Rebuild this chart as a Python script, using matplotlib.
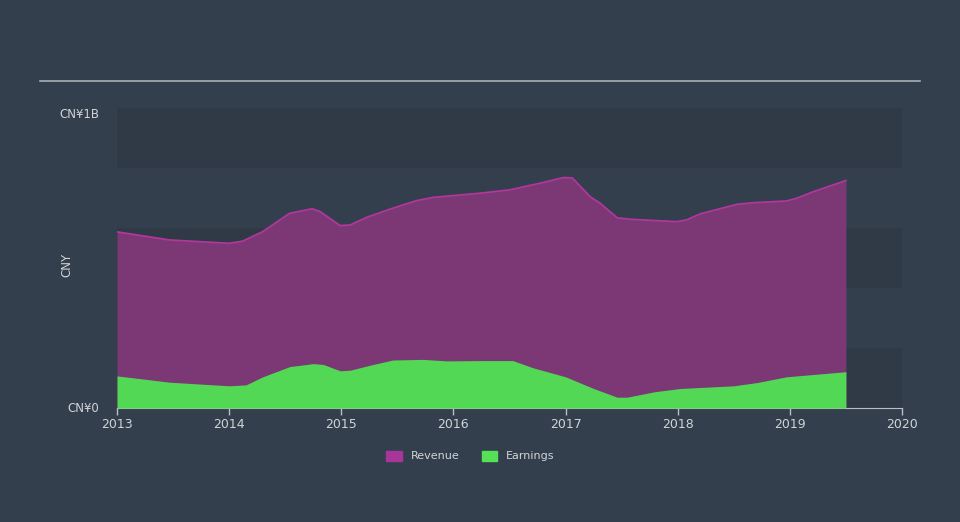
import matplotlib as mpl
import matplotlib.pyplot as plt
from matplotlib.patches import Patch

# values (years as decimals, CNY billions)
rev_x = [2013.0, 2013.47, 2014.0, 2014.12, 2014.3, 2014.54, 2014.74, 2014.81,
         2014.99, 2015.08, 2015.23, 2015.46, 2015.67, 2015.82, 2016.0, 2016.24,
         2016.5, 2016.77, 2016.98, 2017.06, 2017.22, 2017.31, 2017.46, 2017.58,
         2017.99, 2018.08, 2018.2, 2018.53, 2018.67, 2018.97, 2019.06, 2019.21,
         2019.5]
revenue = [0.587, 0.56, 0.549, 0.556, 0.588, 0.649, 0.664, 0.655,
           0.608, 0.61, 0.636, 0.666, 0.691, 0.702, 0.708, 0.716,
           0.727, 0.749, 0.768, 0.767, 0.704, 0.682, 0.634, 0.629,
           0.621, 0.627, 0.647, 0.679, 0.684, 0.69, 0.699, 0.721,
           0.758]

earn_x = [2013.0, 2013.47, 2014.0, 2014.15, 2014.3, 2014.54, 2014.75, 2014.84,
          2014.99, 2015.08, 2015.26, 2015.46, 2015.73, 2015.94, 2016.24, 2016.53,
          2016.71, 2017.0, 2017.25, 2017.46, 2017.55, 2017.79, 2018.02, 2018.5,
          2018.71, 2018.97, 2019.5]
earnings = [0.107, 0.086, 0.074, 0.077, 0.104, 0.138, 0.148, 0.145,
            0.124, 0.126, 0.143, 0.16, 0.162, 0.157, 0.158, 0.158,
            0.134, 0.104, 0.065, 0.036, 0.036, 0.054, 0.065, 0.074,
            0.085, 0.104, 0.121]

years = [2013, 2014, 2015, 2016, 2017, 2018, 2019, 2020]

BG = "#333f4d"
TXT = "#d0d4d8"

mpl.rcParams.update({"font.family": "DejaVu Sans", "font.size": 8.5})

fig = plt.figure(figsize=(9.6, 5.22), dpi=100)
fig.patch.set_facecolor(BG)
ax = fig.add_axes([117 / 960, 114 / 522, 785 / 960, 300 / 522])
ax.set_facecolor("none")

# alternating bands
for lo in (0.0, 0.4, 0.8):
    ax.axhspan(lo, lo + 0.2, color="#000000", alpha=0.08, lw=0, zorder=0)

ax.fill_between(rev_x, 0, revenue, color="#7b3875", lw=0, zorder=1)
ax.plot(rev_x, revenue, color="#b0379c", lw=1.3, zorder=2)
ax.fill_between(earn_x, 0, earnings, color="#52d855", lw=0, zorder=3)

ax.set_xlim(2013, 2020)
ax.set_ylim(0, 1)
ax.set_xticks(years)
ax.set_xticklabels([str(y) for y in years], color=TXT, fontsize=9)
ax.tick_params(axis="x", colors="#b8bec4", length=5, width=1, pad=2)
ax.tick_params(axis="x", labelcolor=TXT)
ax.set_yticks([0, 1])
ax.set_yticklabels(["CN¥0", "CN¥1B"], color=TXT)
ax.tick_params(axis="y", length=0, pad=13)
for lbl, va in zip(ax.get_yticklabels(), ["center", "top"]):
    lbl.set_va(va)
for s in ("top", "right", "left"):
    ax.spines[s].set_visible(False)
ax.spines["bottom"].set_color("#b8bec4")
ax.set_ylabel("CNY", color=TXT)
ax.yaxis.set_label_coords(-0.055, 0.477)

# top rule
fig.add_artist(plt.Line2D([40 / 960, 920 / 960], [1 - 81 / 522, 1 - 81 / 522],
                          color="#a8aeb5", lw=1.2))

handles = [Patch(color="#a8359a", label="Revenue"),
           Patch(color="#55e055", label="Earnings")]
leg = fig.legend(handles=handles, loc="center", bbox_to_anchor=(0.49, 1 - 456 / 522),
                 ncol=2, frameon=False, fontsize=8, labelcolor=TXT,
                 handlelength=1.4, handleheight=1.0, columnspacing=2.0)

fig.savefig("out.png", dpi=100, facecolor=BG)
